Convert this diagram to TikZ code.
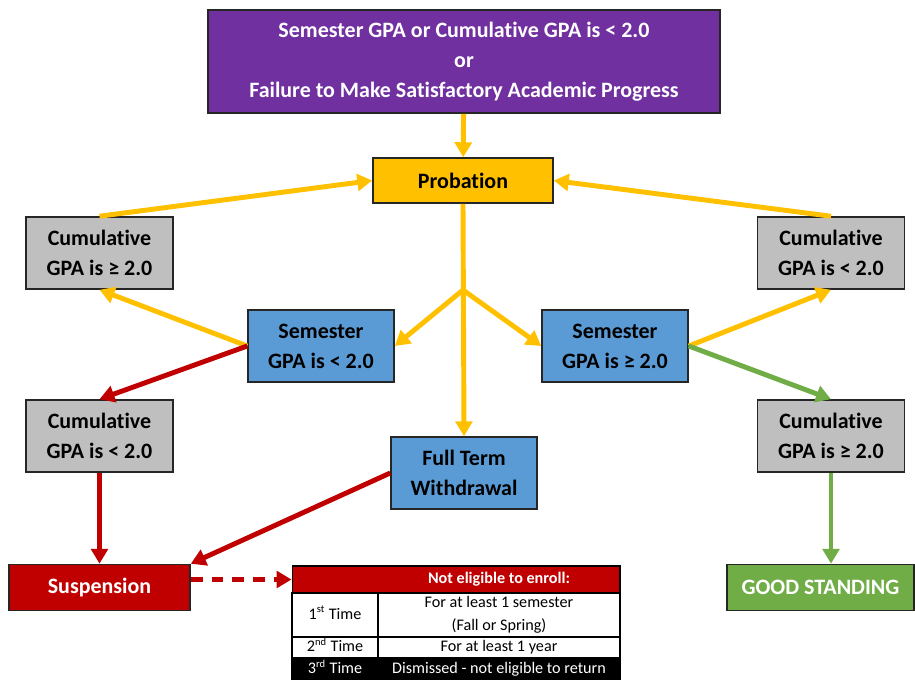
\documentclass[tikz,border=0pt]{standalone}
\usepackage{fontspec}
\setmainfont{Carlito}[Ligatures={NoCommon,NoContextual}]
\usetikzlibrary{arrows.meta}

\definecolor{critpurple}{HTML}{7030A0}
\definecolor{probyellow}{HTML}{FFC000}
\definecolor{cumgray}{HTML}{BFBFBF}
\definecolor{semblue}{HTML}{5B9BD5}
\definecolor{suspred}{HTML}{C00000}
\definecolor{goodgreen}{HTML}{70AD47}
\definecolor{edgegray}{HTML}{262626}

\newcommand{\ordsup}[1]{\smash{\textsuperscript{\fontsize{6}{6}\selectfont #1}}\vphantom{y}}

\tikzset{
  box/.style={draw=edgegray, line width=0.9pt, align=center, inner sep=0pt,
    font=\fontsize{12.5}{17}\selectfont\bfseries},
  cumbox/.style={box, fill=cumgray, minimum width=2.94cm, minimum height=1.44cm},
  sembox/.style={box, fill=semblue, minimum width=2.92cm, minimum height=1.44cm},
  flow/.style={line width=2.8pt, -{Triangle[width=9.5pt,length=8.5pt]}},
  cell/.style={draw=black, line width=0.6pt, inner sep=0pt, align=center,
    font=\fontsize{9.2}{13}\selectfont},
}

\begin{document}
\begin{tikzpicture}[x=0.02cm, y=-0.02cm]
\useasboundingbox (0,0) rectangle (915,679);

% Criteria
\node [box,
    fill=critpurple,
    text=white,
    minimum width=10.24cm,
    minimum height=2.06cm] (crit) at (464,61.5)
    {Semester GPA or Cumulative GPA is < 2.0\\or\\Failure to Make Satisfactory Academic Progress};

% Probation
\node [box,
    fill=probyellow,
    minimum width=3.6cm,
    minimum height=0.9cm] (prob) at (463,180.5) {Probation};

% Cumulative boxes
\node [cumbox] (cumhighL) at (99.5,253) {Cumulative\\GPA is ≥ 2.0};
\node [cumbox] (cumlowR) at (831,253) {Cumulative\\GPA is < 2.0};
\node [cumbox] (cumlowL) at (99.5,436) {Cumulative\\GPA is < 2.0};
\node [cumbox] (cumhighR) at (831,436) {Cumulative\\GPA is ≥ 2.0};

% Semester boxes
\node [sembox] (semlow) at (321,346) {Semester\\GPA is < 2.0};
\node [sembox] (semhigh) at (615,346) {Semester\\GPA is ≥ 2.0};
\node [sembox] (withdraw) at (464,473) {Full Term\\Withdrawal};

% Outcomes
\node [box,
    fill=suspred,
    text=white,
    minimum width=3.62cm,
    minimum height=0.92cm] (susp) at (99.5,587.5) {Suspension};
\node [box,
    fill=goodgreen,
    text=white,
    minimum width=3.74cm,
    minimum height=0.92cm] (good) at (820.5,587.5) {GOOD STANDING};

% Suspension table
\node [cell, fill=suspred, minimum width=6.56cm, minimum height=0.54cm] (thead) at (456,579.5) {};
\node [font=\fontsize{9.2}{13}\selectfont\bfseries, text=white] (theadtxt) at (499,579.5) {Not eligible to enroll:};
\node [cell, minimum width=1.72cm, minimum height=0.88cm] (firstL) at (335,615) {1\ordsup{st} Time};
\node [cell, minimum width=4.84cm, minimum height=0.88cm] (firstR) at (499,615) {For at least 1 semester\\(Fall or Spring)};
\node [cell, minimum width=1.72cm, minimum height=0.42cm] (secondL) at (335,647.5) {2\ordsup{nd} Time};
\node [cell, minimum width=4.84cm, minimum height=0.42cm] (secondR) at (499,647.5) {For at least 1 year};
\node [cell, fill=black, text=white, minimum width=1.72cm, minimum height=0.44cm] (thirdL) at (335,669.5) {3\ordsup{rd} Time};
\node [cell, fill=black, text=white, minimum width=4.84cm, minimum height=0.44cm] (thirdR) at (499,669.5) {Dismissed - not eligible to return};

% Connectors
\coordinate (fork) at (463,290);
\draw [flow, probyellow] (crit) -- (prob);
\draw [flow, probyellow] (cumhighL.north) -- (prob.west);
\draw [flow, probyellow] (cumlowR.north) -- (prob.east);
\draw [flow, probyellow] (prob.south) -- (withdraw.north);
\draw [flow, probyellow] (fork) -- (semlow.east);
\draw [flow, probyellow] (fork) -- (semhigh.west);
\draw [flow, probyellow] (semlow.west) -- (cumhighL.south);
\draw [flow, suspred] (semlow.west) -- (cumlowL.north);
\draw [flow, probyellow] (semhigh.east) -- (cumlowR.south);
\draw [flow, goodgreen] (semhigh.east) -- (cumhighR.north);
\draw [flow, suspred] (cumlowL.south) -- (susp.north);
\draw [flow, suspred] (withdraw.west) -- (susp.north east);
\draw [flow, goodgreen] (cumhighR.south) -- (good.north -| cumhighR.south);
\draw [flow, suspred, dash pattern=on 6.8pt off 5pt] (susp.east |- thead.west) -- (thead.west);

\end{tikzpicture}
\end{document}
